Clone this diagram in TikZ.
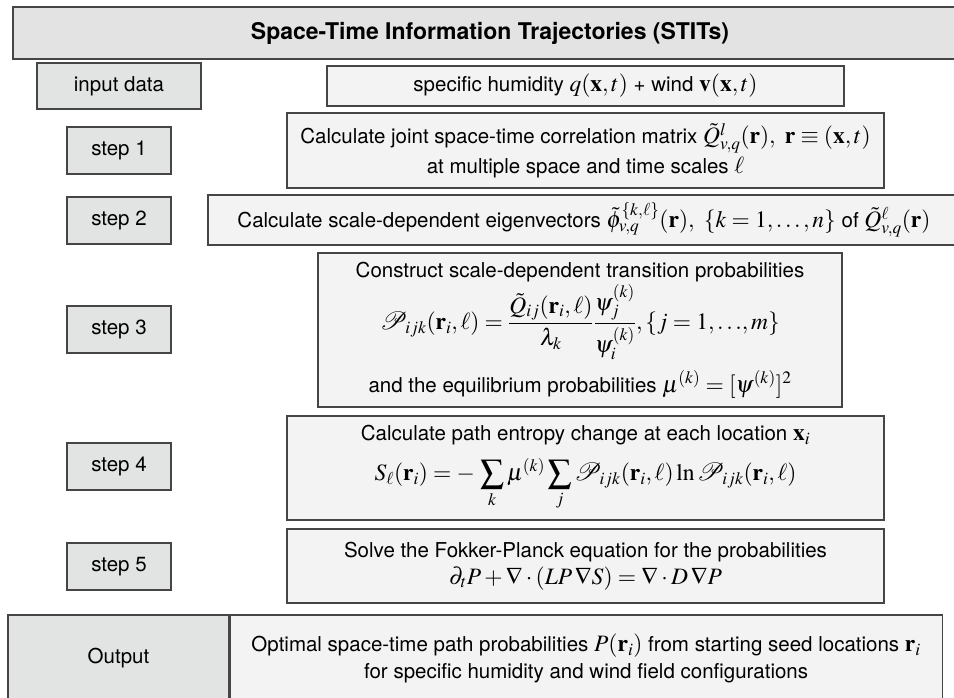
\documentclass[tikz,border=0pt]{standalone}
\usepackage{mathptmx}
\usepackage{mathrsfs}
\usepackage[no-math]{fontspec}
\setmainfont{TeX Gyre Heros}
\definecolor{labfill}{HTML}{E2E3E3}
\definecolor{contfill}{HTML}{F3F3F3}
\definecolor{titlefill}{HTML}{E3E3E3}
\definecolor{edgecol}{HTML}{454545}
\newcommand{\mth}[1]{{\fontsize{23.5}{26}\selectfont$#1$}}
\newcommand{\dmth}[1]{{\fontsize{23.5}{26}\selectfont$\displaystyle #1$}}
\tikzset{
  boxbase/.style={draw=edgecol, line width=1.1pt, inner sep=0pt, align=center,
    font=\fontsize{20.5}{25}\selectfont},
  labbox/.style={boxbase, fill=labfill},
  contbox/.style={boxbase, fill=contfill},
  titlebox/.style={boxbase, fill=titlefill, font=\fontsize{23}{26}\selectfont\bfseries},
}
\begin{document}
\begin{tikzpicture}[x=1pt,y=-1pt]
\useasboundingbox (0,0) rectangle (954,697);
\clip (0,0) rectangle (954,697);
\node[titlebox, minimum width=954pt, minimum height=52pt] (title) at (490,33) {Space-Time Information Trajectories (STITs)};
% input
\node[labbox, minimum width=164pt, minimum height=46pt] (inp) at (119,86) {input data};
\node[contbox, minimum width=517pt, minimum height=40pt] (inpc) at (585.5,86) {specific humidity \mth{q(\mathbf{x},t)} + wind \mth{\mathbf{v}(\mathbf{x},t)}};
% step 1
\node[labbox, minimum width=104pt, minimum height=47pt] (s1) at (119,150.5) {step 1};
\node[contbox, minimum width=597pt, minimum height=75pt] (s1c) at (585.5,150.5) {Calculate joint space-time correlation matrix \mth{\tilde{Q}^{l}_{v,q}(\mathbf{r}),\ \mathbf{r}\equiv(\mathbf{x},t)}\\[3pt] at multiple space and time scales \mth{\ell}};
% step 2
\node[labbox, minimum width=104pt, minimum height=47pt] (s2) at (119,220.5) {step 2};
\node[contbox, minimum width=752pt, minimum height=50pt] (s2c) at (584,220) {Calculate scale-dependent eigenvectors \mth{\tilde{\phi}^{\{k,\ell\}}_{v,q}(\mathbf{r}),\ \{k=1,\ldots,n\}} of \mth{\tilde{Q}^{\ell}_{v,q}(\mathbf{r})}};
% step 3
\node[labbox, minimum width=104pt, minimum height=47pt] (s3) at (119,329.5) {step 3};
\node[contbox, minimum width=524pt, minimum height=154pt] (s3c) at (580,330) {Construct scale-dependent transition probabilities\\[2pt]
\dmth{\mathscr{P}_{ijk}(\mathbf{r}_i,\ell)=\frac{\tilde{Q}_{ij}(\mathbf{r}_i,\ell)}{\lambda_k}\frac{\psi^{(k)}_j}{\psi^{(k)}_i},\{j=1,\ldots\!,m\}}\\[10pt]
and the equilibrium probabilities \mth{\mu^{(k)}=[\psi^{(k)}]^2}};
% step 4
\node[labbox, minimum width=104pt, minimum height=47pt] (s4) at (119,466.5) {step 4};
\node[contbox, minimum width=597pt, minimum height=104pt] (s4c) at (585.5,468) {Calculate path entropy change at each location \mth{\mathbf{x}_i}\\[12pt]
\dmth{S_{\ell}(\mathbf{r}_i)=-\,\sum_k\mu^{(k)}\sum_j\mathscr{P}_{ijk}(\mathbf{r}_i,\ell)\ln\mathscr{P}_{ijk}(\mathbf{r}_i,\ell)}};
% step 5
\node[labbox, minimum width=104pt, minimum height=47pt] (s5) at (119,566.5) {step 5};
\node[contbox, minimum width=597pt, minimum height=74pt] (s5c) at (585.5,566) {Solve the Fokker-Planck equation for the probabilities\\[2pt]
\mth{\partial_t P+\nabla\cdot(LP\,\nabla S)=\nabla\cdot D\,\nabla P}};
% output
\node[labbox, minimum width=221pt, minimum height=87pt] (out) at (118.5,658.5) {Output};
\node[contbox, minimum width=712pt, minimum height=87pt, anchor=west] (outc) at (out.east) {Optimal space-time path probabilities \mth{P(\mathbf{r}_i)} from starting seed locations \mth{\mathbf{r}_i}\\[2pt]
for specific humidity and wind field configurations};
\end{tikzpicture}
\end{document}
